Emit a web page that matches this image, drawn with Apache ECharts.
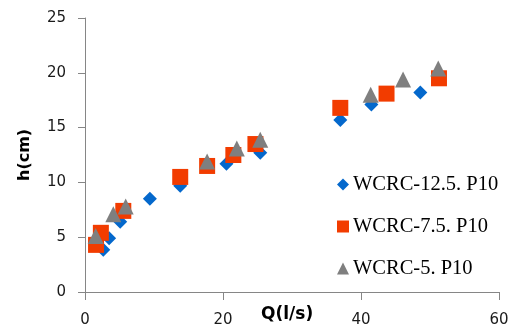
<!DOCTYPE html>
<html><head><meta charset="utf-8">
<script src="https://cdn.jsdelivr.net/npm/echarts@6/dist/echarts.min.js"></script>
<style>html,body{margin:0;padding:0;background:#fff}#c{width:517px;height:328px}</style>
</head><body><div id="c"></div>
<script>
const seriesNames = ['WCRC-12.5. P10', 'WCRC-7.5. P10', 'WCRC-5. P10'];
const diamondData = [[2.65,3.85],[3.5,4.9],[5.1,6.4],[9.4,8.5],[13.8,9.7],[20.5,11.7],[25.4,12.7],[37.0,15.7],[41.5,17.1],[48.6,18.2]];
const squareData = [[1.6,4.3],[2.3,5.4],[5.55,7.4],[13.8,10.5],[17.7,11.5],[21.5,12.5],[24.7,13.5],[37.0,16.8],[43.7,18.1],[51.3,19.5]];
const triangleData = [[1.55,5.1],[4.1,7.1],[5.9,7.8],[17.7,11.9],[22.0,13.1],[25.4,13.9],[41.4,18.0],[46.1,19.4],[51.2,20.4]];
const xTicks = [0, 20, 40, 60];
const yTicks = [0, 5, 10, 15, 20, 25];
const xName = 'Q(l/s)';
const yName = 'h(cm)';

const chart = echarts.init(document.getElementById('c'), null, {renderer: 'canvas'});
const axisColor = '#868686';
const labelStyle = {color: '#1a1a1a', fontFamily: 'DejaVu Sans', fontSize: 15};
chart.setOption({
  animation: false,
  backgroundColor: '#fff',
  grid: {left: 85, right: 18, top: 18, bottom: 36, containLabel: false, outerBoundsMode: 'none'},
  graphic: [
    {type: 'text', left: 261, top: 306, style: {text: xName, font: 'bold 17px "DejaVu Sans"', fill: '#000'}},
    {type: 'text', x: 17, y: 181, rotation: Math.PI / 2, style: {text: yName, font: 'bold 16px "DejaVu Sans"', fill: '#000', textVerticalAlign: 'top'}}
  ],
  legend: {
    orient: 'vertical', left: 332, top: 169,
    itemWidth: 12, itemHeight: 12, itemGap: 21,
    textStyle: {fontFamily: 'Liberation Serif', fontSize: 20.5, color: '#000', padding: [0,0,0,-1]},
    data: [
      {name: seriesNames[0], icon: 'diamond'},
      {name: seriesNames[1], icon: 'rect'},
      {name: seriesNames[2], icon: 'triangle'}
    ]
  },
  xAxis: {
    type: 'value', min: 0, max: 60, interval: 20,
    axisLine: {show: true, lineStyle: {color: axisColor}},
    axisTick: {show: true, length: 8, inside: false, lineStyle: {color: axisColor}},
    axisLabel: Object.assign({margin: 21, formatter: v => xTicks.includes(v) ? String(v) : ''}, labelStyle),
    splitLine: {show: false}
  },
  yAxis: {
    type: 'value', min: 0, max: 25, interval: 5,
    axisLine: {show: true, lineStyle: {color: axisColor}},
    axisTick: {show: true, length: 7, lineStyle: {color: axisColor}},
    axisLabel: Object.assign({margin: 19, formatter: v => yTicks.includes(v) ? String(v) : ''}, labelStyle),
    splitLine: {show: false}
  },
  series: [
    {name: seriesNames[0], type: 'scatter', symbol: 'diamond', symbolSize: 14, data: diamondData, itemStyle: {color: '#0468CC', opacity: 1}, z: 1},
    {name: seriesNames[1], type: 'scatter', symbol: 'rect', symbolSize: 16, data: squareData, itemStyle: {color: '#F23C00', opacity: 1}, z: 2},
    {name: seriesNames[2], type: 'scatter', symbol: 'triangle', symbolSize: 16, data: triangleData, itemStyle: {color: '#7F7F7F', opacity: 1}, z: 3}
  ]
});
</script></body></html>
